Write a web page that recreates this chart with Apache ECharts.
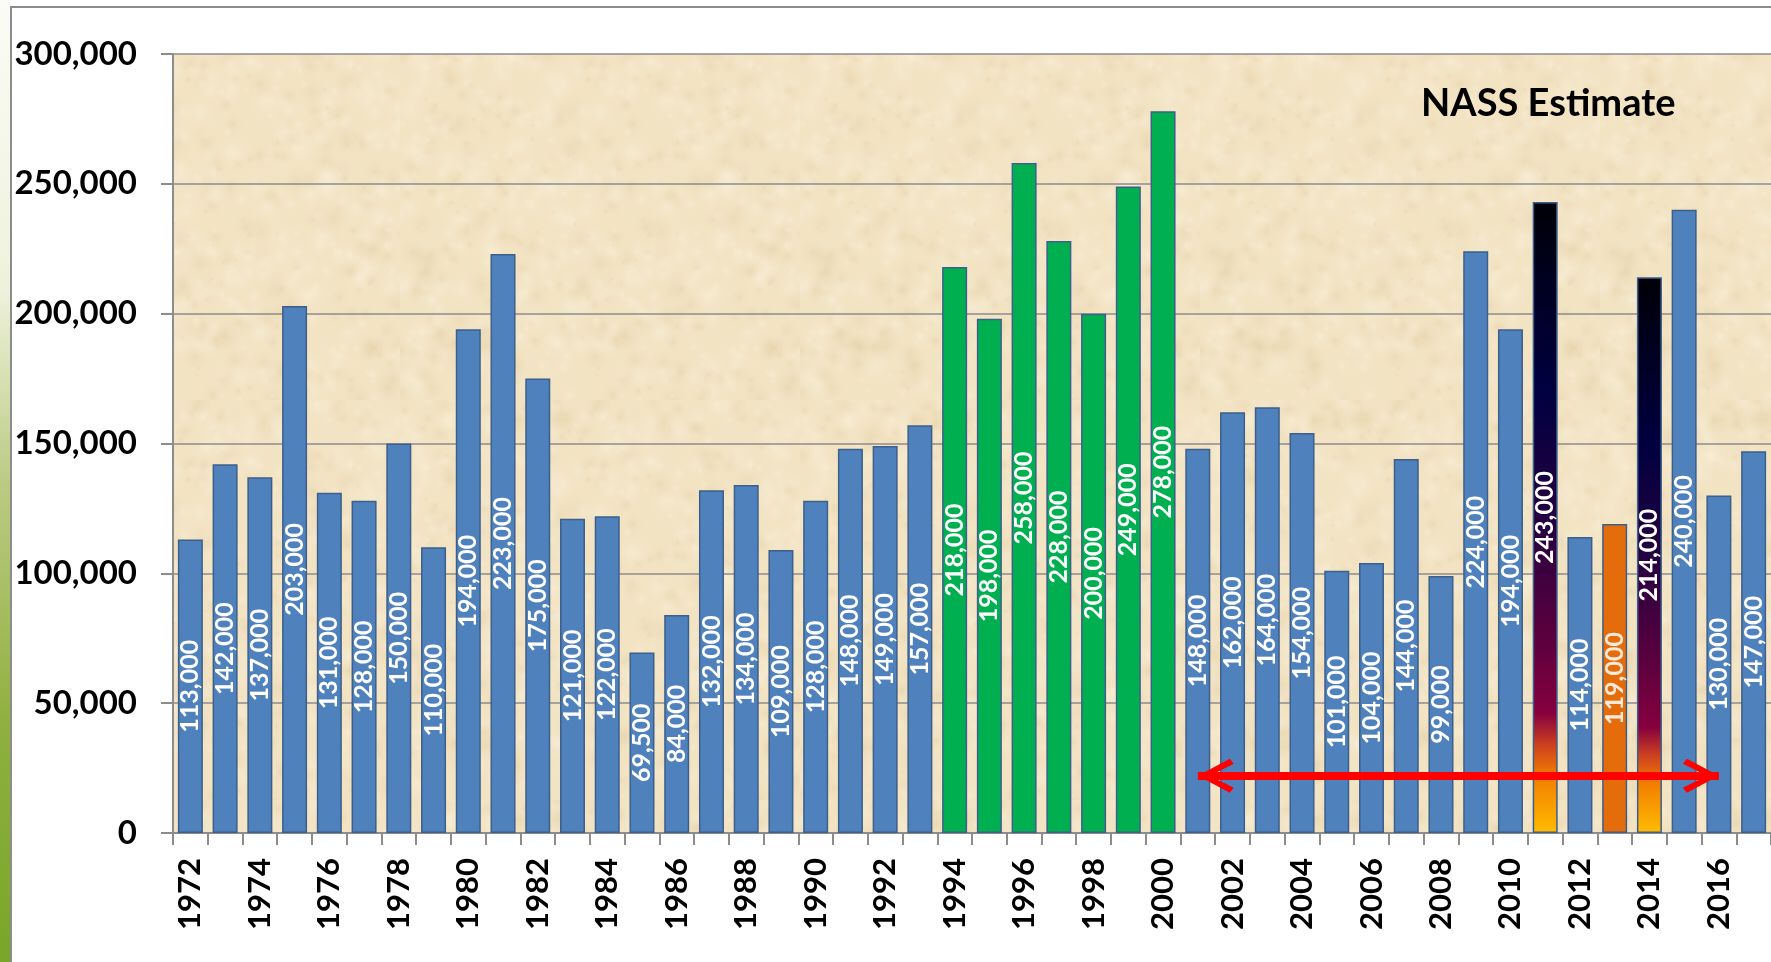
<!DOCTYPE html>
<html>
<head>
<meta charset="utf-8">
<script src="https://cdn.jsdelivr.net/npm/echarts@6/dist/echarts.min.js"></script>
<style>
  html, body { margin: 0; padding: 0; background: #fff; }
  #chart { width: 1771px; height: 962px; }
</style>
</head>
<body>
<div id="chart"></div>
<script>
// ---- data ----
var years = ['1972','1973','1974','1975','1976','1977','1978','1979','1980','1981',
             '1982','1983','1984','1985','1986','1987','1988','1989','1990','1991',
             '1992','1993','1994','1995','1996','1997','1998','1999','2000','2001',
             '2002','2003','2004','2005','2006','2007','2008','2009','2010','2011',
             '2012','2013','2014','2015','2016','2017'];
var acres = [113000,142000,137000,203000,131000,128000,150000,110000,194000,223000,
             175000,121000,122000,69500,84000,132000,134000,109000,128000,148000,
             149000,157000,218000,198000,258000,228000,200000,249000,278000,148000,
             162000,164000,154000,101000,104000,144000,99000,224000,194000,243000,
             114000,119000,214000,240000,130000,147000];
var greenYears = ['1994','1995','1996','1997','1998','1999','2000'];
var gradientYears = ['2011','2014'];
var orangeYears = ['2013'];
var yTicks = [0, 50000, 100000, 150000, 200000, 250000, 300000];
var arrowFrom = ['2001', 22000];
var arrowTo = ['2016', 22000];

// ---- styles ----
var BLUE = '#4f81bd', GREEN = '#00b050', ORANGE = '#e46c0a', EDGE = '#3c5f8c';
var darkGrad = new echarts.graphic.LinearGradient(0, 0, 0, 1, [
  {offset: 0, color: '#000008'},
  {offset: 0.3, color: '#000040'},
  {offset: 0.5, color: '#240040'},
  {offset: 0.7, color: '#5e003e'},
  {offset: 0.81, color: '#86003e'},
  {offset: 0.86, color: '#cc4020'},
  {offset: 0.91, color: '#f27d00'},
  {offset: 1, color: '#ffbc00'}
]);

// parchment texture for the plot area (deterministic)
function parchment() {
  var c = document.createElement('canvas');
  c.width = 400; c.height = 400;
  var g = c.getContext('2d');
  g.fillStyle = '#f2e3c3';
  g.fillRect(0, 0, 400, 400);
  var s = 12345;
  function rnd() { s = (s * 16807) % 2147483647; return s / 2147483647; }
  for (var i = 0; i < 900; i++) {
    var x = rnd() * 400, y = rnd() * 400, r = 3 + rnd() * 16;
    var light = rnd() > 0.45;
    var rg = g.createRadialGradient(x, y, 0, x, y, r);
    rg.addColorStop(0, light ? 'rgba(250,242,222,0.4)' : 'rgba(224,200,155,0.3)');
    rg.addColorStop(1, 'rgba(242,227,195,0)');
    g.fillStyle = rg;
    g.fillRect(x - r, y - r, r * 2, r * 2);
  }
  return c;
}

function fmt(v) { return v.toLocaleString('en-US'); }

var barData = years.map(function (y, i) {
  var item = {value: acres[i], itemStyle: {color: BLUE}};
  if (greenYears.indexOf(y) >= 0) item.itemStyle.color = GREEN;
  if (orangeYears.indexOf(y) >= 0) {
    item.itemStyle.color = ORANGE;
    item.label = {color: '#fde9d9'};
  }
  if (gradientYears.indexOf(y) >= 0) item.itemStyle.color = darkGrad;
  return item;
});

// chevron pointing up, tip at the box centre
var chevron = 'path://M17,-36L17.1,-36ZM17,0L34,32L29,36L17,12L5,36L0,32Z';

var chart = echarts.init(document.getElementById('chart'));
chart.setOption({
  backgroundColor: '#fff',
  animation: false,
  graphic: [
    {type: 'rect', shape: {x: 0, y: 0, width: 10, height: 962}, silent: true,
     style: {fill: new echarts.graphic.LinearGradient(0, 0, 0, 1, [
       {offset: 0, color: '#fbfcf6'},
       {offset: 0.3, color: '#eef2dc'},
       {offset: 0.5, color: '#bccb84'},
       {offset: 0.75, color: '#90b040'},
       {offset: 1, color: '#78a628'}
     ])}},
    {type: 'rect', shape: {x: 11, y: 7, width: 1800, height: 1000}, silent: true,
     style: {fill: null, stroke: '#8c8c8c', lineWidth: 2}},
    {type: 'text', left: 1421, top: 85, z: 10, silent: true,
     style: {text: 'NASS Estimate', fill: '#000', font: 'bold 38px Lato'}}
  ],
  grid: {
    left: 173, top: 54, width: 1600, bottom: 129,
    show: true, borderWidth: 0,
    backgroundColor: {image: parchment(), repeat: 'repeat'}
  },
  xAxis: {
    type: 'category',
    data: years,
    axisLine: {lineStyle: {color: '#8c8c8c', width: 2}},
    axisTick: {show: true, interval: 0, length: 12, lineStyle: {color: '#8c8c8c', width: 2}},
    axisLabel: {
      interval: 1, rotate: 90, margin: 25,
      color: '#000', fontFamily: 'Lato', fontWeight: 'bold', fontSize: 31
    }
  },
  yAxis: {
    type: 'value',
    min: yTicks[0], max: yTicks[yTicks.length - 1], interval: yTicks[1] - yTicks[0],
    axisLine: {show: true, lineStyle: {color: '#8c8c8c', width: 2}},
    axisTick: {show: true, length: 12, lineStyle: {color: '#8c8c8c', width: 2}},
    splitLine: {lineStyle: {color: '#8c8c8c', width: 1.5}},
    axisLabel: {
      margin: 36, color: '#000', fontFamily: 'Lato', fontWeight: 'bold', fontSize: 33,
      formatter: fmt
    }
  },
  series: [{
    type: 'bar',
    data: barData,
    barWidth: 25,
    itemStyle: {borderColor: EDGE, borderWidth: 1.5},
    label: {
      show: true, position: 'inside', rotate: 90,
      color: '#fff', fontFamily: 'Lato', fontWeight: 'bold', fontSize: 25,
      formatter: function (p) { return fmt(p.value); }
    },
    markLine: {
      silent: true,
      symbol: [chevron, chevron],
      symbolSize: [34, 72],
      label: {show: false},
      lineStyle: {color: '#ff0000', width: 8, type: 'solid'},
      data: [[{coord: arrowFrom}, {coord: arrowTo}]]
    }
  }]
});
</script>
</body>
</html>
